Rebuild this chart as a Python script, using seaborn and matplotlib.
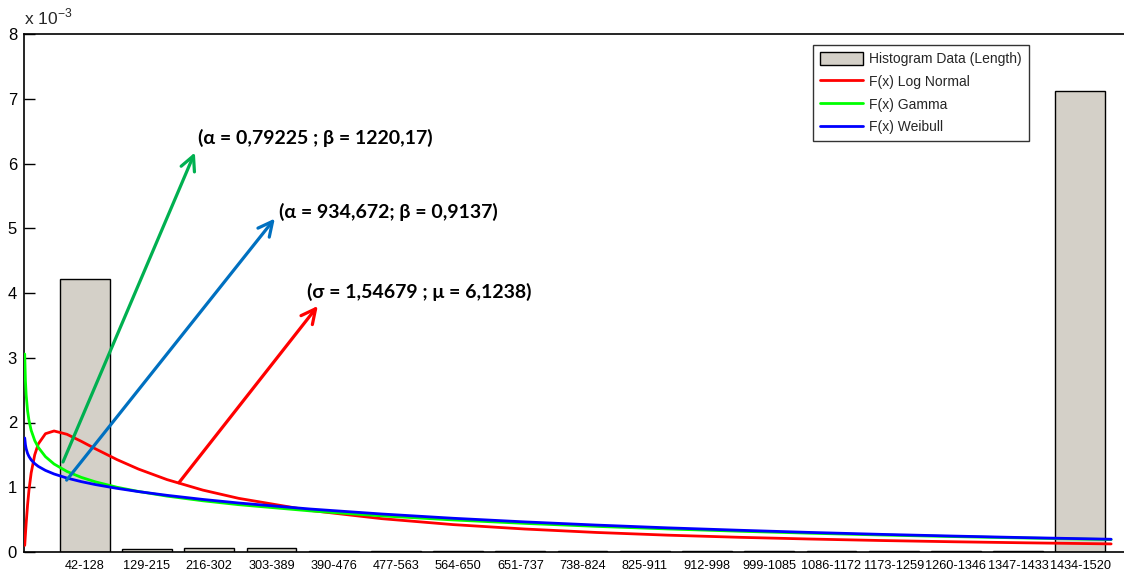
import matplotlib
matplotlib.use("Agg")
import matplotlib.pyplot as plt
import pandas as pd
import seaborn as sns
from matplotlib.patches import Patch
from matplotlib.lines import Line2D

# Length classes of the histogram and their density (x 10^-3)
bin_labels = ["42-128", "129-215", "216-302", "303-389", "390-476", "477-563",
              "564-650", "651-737", "738-824", "825-911", "912-998", "999-1085",
              "1086-1172", "1173-1259", "1260-1346", "1347-1433", "1434-1520"]
bin_density = [4.22, 0.042, 0.057, 0.057, 0.008, 0.008, 0.008, 0.008, 0.008,
               0.008, 0.008, 0.008, 0.008, 0.008, 0.008, 0.008, 7.12]

# Fitted probability densities (x 10^-3) along the length axis
x_pdf = [1, 2, 3, 5, 7, 10, 15, 20, 30, 42, 60, 80, 100, 130, 160, 200, 250,
         300, 400, 500, 600, 700, 800, 900, 1000, 1100, 1200, 1300, 1400, 1520]
pdf_lognormal = [0.102, 0.272, 0.439, 0.729, 0.960, 1.220, 1.501, 1.669, 1.827,
                 1.869, 1.818, 1.710, 1.593, 1.427, 1.281, 1.118, 0.956, 0.829,
                 0.642, 0.515, 0.423, 0.355, 0.302, 0.260, 0.227, 0.200, 0.177,
                 0.158, 0.142, 0.125]
pdf_gamma = [3.058, 2.644, 2.428, 2.180, 2.030, 1.880, 1.721, 1.615, 1.472,
             1.359, 1.244, 1.153, 1.083, 1.000, 0.935, 0.863, 0.791, 0.731,
             0.635, 0.558, 0.495, 0.442, 0.396, 0.356, 0.321, 0.290, 0.262,
             0.238, 0.216, 0.192]
pdf_weibull = [1.761, 1.656, 1.596, 1.522, 1.474, 1.423, 1.365, 1.322, 1.260,
               1.205, 1.142, 1.087, 1.041, 0.983, 0.933, 0.875, 0.812, 0.757,
               0.664, 0.587, 0.521, 0.465, 0.416, 0.373, 0.336, 0.302, 0.272,
               0.246, 0.222, 0.197]

series_names = ["F(x) Log Normal", "F(x) Gamma", "F(x) Weibull"]
series_colors = ["#FF0000", "#00FF00", "#0000FF"]
hist_label = "Histogram Data (Length)"

fit_gamma = "(α = 0,79225 ; β = 1220,17)"
fit_weibull = "(α = 934,672; β = 0,9137)"
fit_lognormal = "(σ = 1,54679 ; μ = 6,1238)"

sns.set_theme(style="white")
plt.rcParams["font.family"] = ["Liberation Sans", "DejaVu Sans"]

W, H = 1124, 574
fig = plt.figure(figsize=(W / 100, H / 100), dpi=100)
ax = fig.add_axes([24 / W, 22 / H, 1100 / W, 518 / H])

bar_color = "#D4D0C8"
centers = [(int(a) + int(b)) / 2 for a, b in (s.split("-") for s in bin_labels)]
sns.barplot(x=centers, y=bin_density, native_scale=True, width=0.8,
            color=bar_color, saturation=1, edgecolor="black", linewidth=1,
            ax=ax, zorder=2)

curves = pd.DataFrame({
    "x": x_pdf * 3,
    "pdf": pdf_lognormal + pdf_gamma + pdf_weibull,
    "dist": sum([[n] * len(x_pdf) for n in series_names], []),
})
sns.lineplot(data=curves, x="x", y="pdf", hue="dist", hue_order=series_names,
             palette=dict(zip(series_names, series_colors)), linewidth=2,
             estimator=None, legend=False, ax=ax, zorder=3)

ax.set_xlim(0, 1538)
ax.set_ylim(0, 8)
ax.set_yticks(range(0, 9))
ax.set_yticklabels([str(v) for v in range(0, 9)])
ax.set_xticks(centers)
ax.set_xticklabels(bin_labels)
ax.set_xlabel("")
ax.set_ylabel("")

for side in ["top", "left", "bottom"]:
    ax.spines[side].set_visible(True)
    ax.spines[side].set_color("black")
    ax.spines[side].set_linewidth(1.2)
ax.spines["right"].set_visible(False)

ax.tick_params(axis="y", direction="in", length=8, width=1, labelsize=12,
               pad=5, left=True, colors="black")
ax.tick_params(axis="x", length=0, labelsize=9.2, pad=6, colors="black")

ax.text(0, 1.012, r"x 10$^{\mathregular{-3}}$", transform=ax.transAxes,
        fontsize=12.5, ha="left", va="bottom")

# Parameter callouts with arrows
callouts = [
    (fit_gamma, "#00B050", (54.5, 1.39), (238.9, 6.17), (243, 6.39)),
    (fit_weibull, "#0070C0", (59.6, 1.11), (350.7, 5.15), (357, 5.25)),
    (fit_lognormal, "#FF0000", (216.6, 1.07), (410.8, 3.80), (395, 4.02)),
]
for text, color, tail, head, pos in callouts:
    ax.annotate("", xy=head, xytext=tail,
                arrowprops=dict(arrowstyle="->", color=color, lw=2.3,
                                mutation_scale=26, shrinkA=0, shrinkB=0),
                zorder=4)
    ax.text(pos[0], pos[1], text, fontsize=14, fontweight="bold",
            family=["Lato", "DejaVu Sans"], ha="left", va="center",
            color="black", zorder=5)

handles = [Patch(facecolor=bar_color, edgecolor="black", linewidth=1)]
handles += [Line2D([], [], color=c, lw=2) for c in series_colors]
leg = ax.legend(handles, [hist_label] + series_names, loc="upper right",
                bbox_to_anchor=(0.9136, 0.9788), frameon=True, fancybox=False,
                edgecolor="black", fontsize=10, handlelength=3.1,
                handleheight=1.1, borderpad=0.5, labelspacing=0.6,
                handletextpad=0.45, borderaxespad=0)
leg.get_frame().set_linewidth(1)
leg.get_frame().set_facecolor("white")
leg.set_zorder(6)

fig.savefig("out.png", dpi=100)
